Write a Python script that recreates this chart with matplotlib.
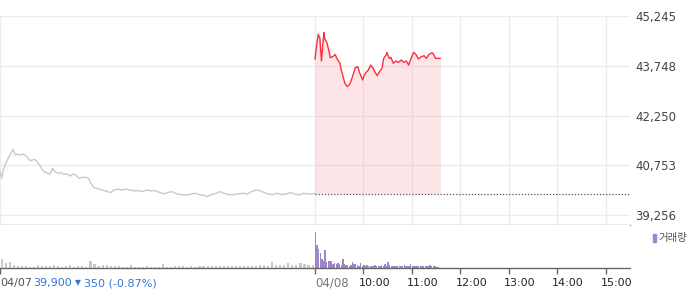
import matplotlib

matplotlib.use("Agg")
import matplotlib.pyplot as plt
from matplotlib import transforms
from matplotlib.patches import Rectangle

plt.rcParams["font.family"] = ["DejaVu Sans", "Noto Sans CJK KR"]

# ---------------------------------------------------------------------------
# Data (minutes from 04/07 09:00; 04/08 09:00 = 390)
# ---------------------------------------------------------------------------
prev_close = 39900
y_ticks = [39256, 40753, 42250, 43748, 45245]

# 04/07 price (previous day, grey)
day1_min = [0, 2, 4, 7, 10, 13, 16, 19, 21, 25, 28, 31, 34, 37, 40, 43, 45,
            49, 52, 55, 59, 62, 65, 68, 72, 76, 79, 83, 87, 90, 94, 98, 102,
            106, 110, 112, 116, 120, 124, 129, 133, 137, 141, 146, 151, 156,
            161, 166, 171, 176, 182, 187, 192, 198, 203, 207, 213, 219, 225,
            231, 237, 241, 247, 252, 257, 262, 268, 272, 277, 283, 289, 295,
            301, 306, 312, 317, 322, 327, 332, 338, 343, 349, 354, 360, 365,
            371, 376, 380, 386, 390]
day1_price = [40560, 40360, 40610, 40810, 40960, 41090, 41230, 41060, 41090,
              41060, 41090, 41060, 40990, 40890, 40910, 40930, 40890, 40760,
              40630, 40560, 40510, 40490, 40660, 40560, 40510, 40530, 40480,
              40490, 40430, 40490, 40460, 40360, 40390, 40390, 40360, 40230,
              40090, 40060, 40030, 39990, 39960, 39930, 40010, 40030, 40010,
              40030, 40010, 39980, 39990, 39960, 40010, 39980, 39990, 39930,
              39890, 39930, 39960, 39890, 39870, 39860, 39890, 39910, 39870,
              39850, 39810, 39870, 39910, 39960, 39910, 39870, 39870, 39890,
              39910, 39890, 39960, 40010, 39990, 39930, 39890, 39870, 39910,
              39870, 39890, 39930, 39890, 39860, 39910, 39890, 39890, 39900]

# 04/08 price (today, red) - minutes after 09:00
day2_min = [0, 2, 4, 6, 8, 11, 12, 15, 17, 19, 22, 25, 27, 31, 32, 34, 37,
            40, 43, 46, 50, 53, 55, 59, 61, 64, 66, 69, 72, 74, 77, 80, 83,
            85, 88, 89, 92, 94, 97, 100, 103, 107, 110, 113, 116, 119, 122,
            125, 128, 131, 135, 138, 141, 145, 147, 149, 152, 155]
day2_price = [43950, 44370, 44690, 44580, 43890, 44750, 44570, 44420, 44220,
              43990, 44020, 44090, 43970, 43820, 43670, 43490, 43220, 43120,
              43190, 43390, 43690, 43720, 43550, 43320, 43470, 43570, 43620,
              43770, 43670, 43570, 43450, 43570, 43670, 43970, 44070, 44150,
              43970, 44000, 43820, 43890, 43850, 43920, 43850, 43890, 43770,
              43970, 44150, 44090, 43950, 44010, 44050, 43970, 44090, 44140,
              44090, 43970, 43970, 43970]

# volume, 04/07 in 5-minute buckets, 04/08 in 2-minute buckets
day1_vol = [9, 5, 6, 3, 2, 2, 2, 1.5, 1.5, 3.3,
            2.3, 2.3, 2.3, 3, 2, 1.5, 2, 3, 1, 2.3,
            2.3, 1, 7.3, 4.3, 2, 2.7, 3.3, 2, 2.3, 2,
            1.5, 1.5, 3.3, 1, 1, 1.5, 2.3, 1.5, 1, 1.5,
            4.3, 1.5, 1, 2.3, 1.7, 1.7, 1, 1.7, 1, 1.7,
            1.7, 1.7, 1.7, 1.7, 1.7, 1.7, 1.7, 2, 2.3, 1.7,
            2, 2.3, 2.3, 2.3, 2.7, 3.3, 2, 6, 2.7, 3.3,
            3.3, 5, 3.3, 3, 5, 4, 3, 3]
day2_vol = [36, 23, 19, 15, 9, 7, 18, 6, 7, 6.7,
            7, 4, 5, 4, 5, 4, 3.3, 9, 4, 3,
            3, 2.5, 3, 6, 4.5, 4, 3, 2.5, 5, 2.5,
            3, 2, 3, 2, 2.3, 2, 2, 3.3, 2, 2,
            2.5, 3, 2, 4, 2.5, 6, 3, 2, 2.3, 2,
            1.7, 1.7, 1.7, 1.7, 2, 3, 2, 2.5, 2, 4.5,
            2.5, 2, 2, 2, 2.5, 1.7, 2, 1.7, 1.7, 2,
            2.5, 3.3, 2, 1.7, 2, 1, 1]

grid_x = [0, 60, 120, 180, 240, 300, 360, 390, 450, 510, 570, 630, 690, 750]
tick_x = [0, 390, 450, 510, 570, 630, 690, 750]
tick_labels = ["04/08", "10:00", "11:00", "12:00", "13:00", "14:00", "15:00"]

# ---------------------------------------------------------------------------
# Style
# ---------------------------------------------------------------------------
RED = "#f8303f"
PINK = "#f7a8b0"
GREY_LINE = "#c6c9cf"
PURPLE = "#9d87c9"
GREY_BAR = "#cacaca"
GRID = "#ececec"
BLUE = "#2f78d8"

fig = plt.figure(figsize=(7, 2.89), dpi=100)
W, H = 700, 289

ax = fig.add_axes([0, 1 - 225 / H, 630 / W, (225 - 16) / H])
axv = fig.add_axes([0, 1 - 268 / H, 630 / W, (268 - 225) / H], sharex=ax)

# --- price panel -----------------------------------------------------------
x2 = [390 + m for m in day2_min]
ax.fill_between(x2, day2_price, prev_close, color=PINK, alpha=0.3, lw=0, zorder=1)
ax.plot(day1_min, day1_price, color=GREY_LINE, lw=1, zorder=3)
ax.plot(x2, day2_price, color=RED, lw=1, zorder=3)
ax.plot([390, 780], [prev_close, prev_close], color="#555555", lw=0.9,
        linestyle=(0, (1, 1.5)), zorder=2)

ax.set_xlim(0, 780)
ax.set_ylim(39256 - 10 * 1497 / 49.75, 45245)
ax.set_xticks(grid_x)
ax.set_yticks(y_ticks)
ax.set_yticklabels([f"{v:,}" for v in y_ticks])
ax.yaxis.tick_right()
ax.tick_params(axis="y", length=0, pad=4, labelsize=8.5, colors="#444444")
ax.tick_params(axis="x", length=0, labelbottom=False)
ax.grid(True, color=GRID, lw=1, zorder=0)
ax.set_axisbelow(True)
for s in ["top", "left", "right"]:
    ax.spines[s].set_visible(False)
ax.spines["bottom"].set_color("#9a9a9a")
ax.spines["bottom"].set_linewidth(1)

# --- volume panel ----------------------------------------------------------
x_v1 = [5 * i + 2 for i in range(len(day1_vol))]
x_v2 = [390 + 2 * j + 0.5 for j in range(len(day2_vol))]
axv.bar(x_v1, day1_vol, width=2.6, color=GREY_BAR, lw=0)
axv.bar(x_v2, day2_vol, width=1.7, color=PURPLE, lw=0)
axv.set_ylim(0, 43)
axv.set_yticks([])
axv.set_xticks(tick_x)
axv.tick_params(axis="x", length=4, width=1, color="#666666", labelbottom=False)
for s in ["top", "left", "right"]:
    axv.spines[s].set_visible(False)
axv.spines["bottom"].set_color("#666666")
axv.spines["bottom"].set_linewidth(1)

# legend
fig.patches.append(Rectangle((652.7 / W, 1 - 241.7 / H), 2.8 / W, 7.7 / H,
                             transform=fig.transFigure, color=PURPLE))
fig.text(658 / W, 1 - 238 / H, "거래량", fontsize=7.5, color="#555555",
         va="center", ha="left", family=["Noto Sans CJK KR", "DejaVu Sans"])

# --- x labels ----------------------------------------------------------------
yl = 1 - 283 / H
blend = transforms.blended_transform_factory(axv.transData, fig.transFigure)
off = transforms.ScaledTranslation(-5 / 100, 0, fig.dpi_scale_trans)
for i, (xt, lab) in enumerate(zip(tick_x[1:], tick_labels)):
    if i == 0:
        axv.text(xt, yl, lab, transform=blend, ha="left", va="center",
                 fontsize=8.5, color="#777777")
    else:
        axv.text(xt, yl, lab, transform=blend + off, ha="left", va="center",
                 fontsize=8, color="#222222")

# previous-day summary
fig.text(0, yl, "04/07", ha="left", va="center", fontsize=8, color="#555555")
fig.text(33 / W, yl, f"{prev_close:,}", ha="left", va="center", fontsize=8,
         color=BLUE)
fig.text(75 / W, yl, "▼", ha="left", va="center", fontsize=5.5, color=BLUE)
fig.text(84 / W, yl, "350 (-0.87%)", ha="left", va="center", fontsize=8,
         color=BLUE)

fig.savefig("out.png", dpi=100)
